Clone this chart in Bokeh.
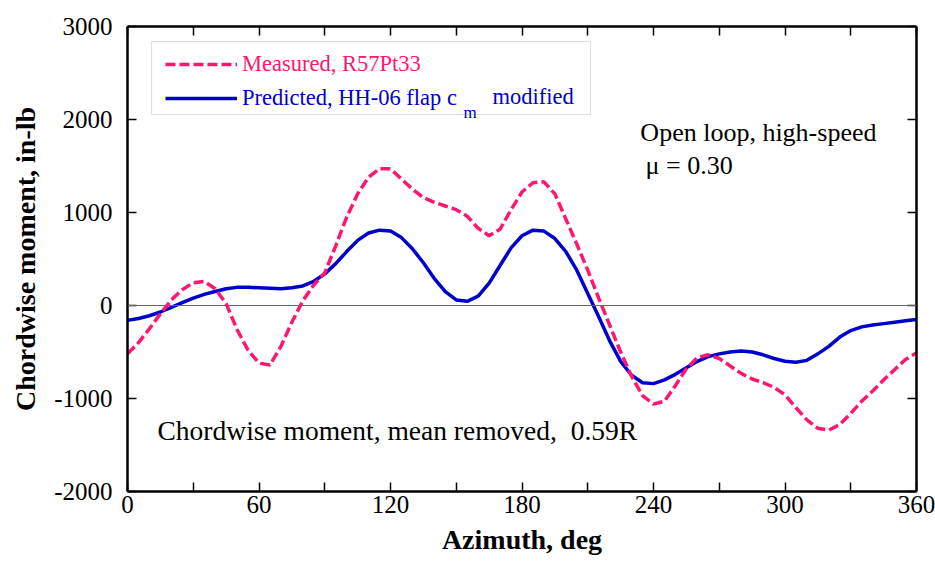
from bokeh.plotting import figure
from bokeh.models import Span, Label, BoxAnnotation, Legend, LegendItem, LinearAxis, FixedTicker
from bokeh.embed import file_html
from bokeh.resources import INLINE

# ---------------- data ----------------
azimuth = list(range(0, 361, 5))

measured = [
    -520, -400, -250, -90, 60, 170, 245, 260, 180, 20,
    -260, -480, -620, -640, -440, -180, 50, 220, 350, 640,
    950, 1200, 1380, 1470, 1470, 1360, 1250, 1160, 1110, 1070,
    1030, 960, 830, 750, 820, 1030, 1220, 1320, 1330, 1200,
    930, 660, 380, 80, -210, -500, -760, -970, -1060, -1030,
    -860, -680, -560, -530, -570, -650, -730, -790, -830, -880,
    -960, -1100, -1230, -1320, -1340, -1280, -1160, -1030, -920, -800,
    -690, -580, -510,
]

predicted = [
    -160, -140, -110, -70, -20, 30, 80, 120, 150, 180,
    195, 195, 190, 185, 180, 190, 210, 260, 340, 450,
    580, 700, 780, 810, 800, 730, 610, 460, 290, 150,
    60, 45, 100, 240, 430, 620, 750, 810, 800, 720,
    580, 380, 130, -120, -380, -600, -750, -830, -840, -800,
    -740, -670, -600, -550, -520, -500, -490, -500, -530, -570,
    -600, -610, -590, -520, -440, -340, -270, -230, -210, -195,
    -180, -165, -150,
]

x_ticks = [0, 60, 120, 180, 240, 300, 360]
x_minor = [30, 90, 150, 210, 270, 330]
y_ticks = [-2000, -1000, 0, 1000, 2000, 3000]
y_tick_labels = {-2000: "-2000", -1000: "-1000", 0: "0", 1000: "1000", 2000: "2000", 3000: "3000"}

label_measured = "Measured, R57Pt33"
label_predicted = "Predicted, HH-06 flap c"

PINK = "#FF1670"
BLUE = "#0000CC"
FONT = "Liberation Serif"

# ---------------- figure ----------------
p = figure(width=935, height=570, x_range=(0, 360), y_range=(-2000, 3000),
           output_backend="svg", toolbar_location=None,
           min_border_left=127, min_border_right=19, min_border_top=26,
           min_border_bottom=79)
p.outline_line_color = None
p.grid.grid_line_color = None
p.background_fill_color = "white"
p.border_fill_color = "white"


def style_axis(ax, show_labels=True):
    ax.axis_line_width = 2.5
    ax.axis_line_color = "black"
    ax.major_tick_in = 9
    ax.major_tick_out = 0
    ax.minor_tick_in = 9
    ax.minor_tick_out = 0
    ax.major_tick_line_width = 1.5
    ax.minor_tick_line_width = 1.5
    ax.major_tick_line_color = "black"
    ax.minor_tick_line_color = "black"
    ax.major_label_text_font = FONT
    if show_labels:
        ax.major_label_text_color = "black"
        ax.major_label_text_font_size = "25px"
    else:
        ax.major_label_text_color = None
        ax.major_label_text_font_size = "1px"
        ax.major_label_standoff = 0


xt = FixedTicker(ticks=x_ticks, minor_ticks=x_minor)
yt = FixedTicker(ticks=y_ticks, minor_ticks=[])

xa = p.xaxis[0]
xa.ticker = xt
style_axis(xa)
xa.major_label_standoff = 4
xa.axis_label = "Azimuth, deg"
xa.axis_label_text_font = FONT
xa.axis_label_text_font_style = "bold"
xa.axis_label_text_font_size = "28px"
xa.axis_label_text_color = "black"
xa.axis_label_standoff = 8

ya = p.yaxis[0]
ya.ticker = yt
style_axis(ya)
ya.major_label_overrides = y_tick_labels
ya.major_label_standoff = 15
ya.axis_label = "Chordwise moment, in-lb"
ya.axis_label_text_font = FONT
ya.axis_label_text_font_style = "bold"
ya.axis_label_text_font_size = "28px"
ya.axis_label_text_color = "black"
ya.axis_label_standoff = 10

top = LinearAxis(ticker=FixedTicker(ticks=x_ticks, minor_ticks=x_minor))
style_axis(top, show_labels=False)
p.add_layout(top, "above")

right = LinearAxis(ticker=FixedTicker(ticks=y_ticks, minor_ticks=[]))
style_axis(right, show_labels=False)
p.add_layout(right, "right")

# zero line
p.add_layout(Span(location=0, dimension="width", line_color="#666666", line_width=1))

# curves
r_pred = p.line(azimuth, predicted, line_color=BLUE, line_width=3.5)
r_meas = p.line(azimuth, measured, line_color=PINK, line_width=3.5, line_dash="10 4")

# legend box
p.add_layout(BoxAnnotation(left=11, right=211.3, bottom=2054, top=2839,
                           fill_color="white", fill_alpha=1.0,
                           line_color="#888888", line_width=1, level="annotation"))

leg_common = dict(label_text_font=FONT, label_text_font_size="22.5px",
                  glyph_width=72, glyph_height=20, label_standoff=5,
                  padding=0, margin=0, spacing=0,
                  border_line_color=None, background_fill_alpha=0.0)

leg1 = Legend(items=[LegendItem(label=label_measured, renderers=[r_meas])],
              location=(38, 414), label_text_color=PINK, **leg_common)
leg2 = Legend(items=[LegendItem(label=label_predicted, renderers=[r_pred])],
              location=(38, 380), label_text_color=BLUE, **leg_common)
p.add_layout(leg1)
p.add_layout(leg2)

p.add_layout(Label(x=153.3, y=2075, text="m", text_font=FONT, text_font_size="17px",
                   text_color=BLUE, text_baseline="middle"))
p.add_layout(Label(x=166.5, y=2245, text="modified", text_font=FONT, text_font_size="22.5px",
                   text_color=BLUE, text_baseline="middle"))

# annotations
p.add_layout(Label(x=234, y=1860, text="Open loop, high-speed", text_font=FONT,
                   text_font_size="26px", text_color="black", text_baseline="middle"))
p.add_layout(Label(x=236.4, y=1505, text="\u03bc = 0.30", text_font=FONT,
                   text_font_size="26px", text_color="black", text_baseline="middle"))
p.add_layout(Label(x=13.7, y=-1344,
                   text="Chordwise moment, mean removed,\u00a0 0.59R",
                   text_font=FONT, text_font_size="27.5px", text_color="black",
                   text_baseline="middle"))

open("out.html", "w").write(file_html(p, INLINE))
